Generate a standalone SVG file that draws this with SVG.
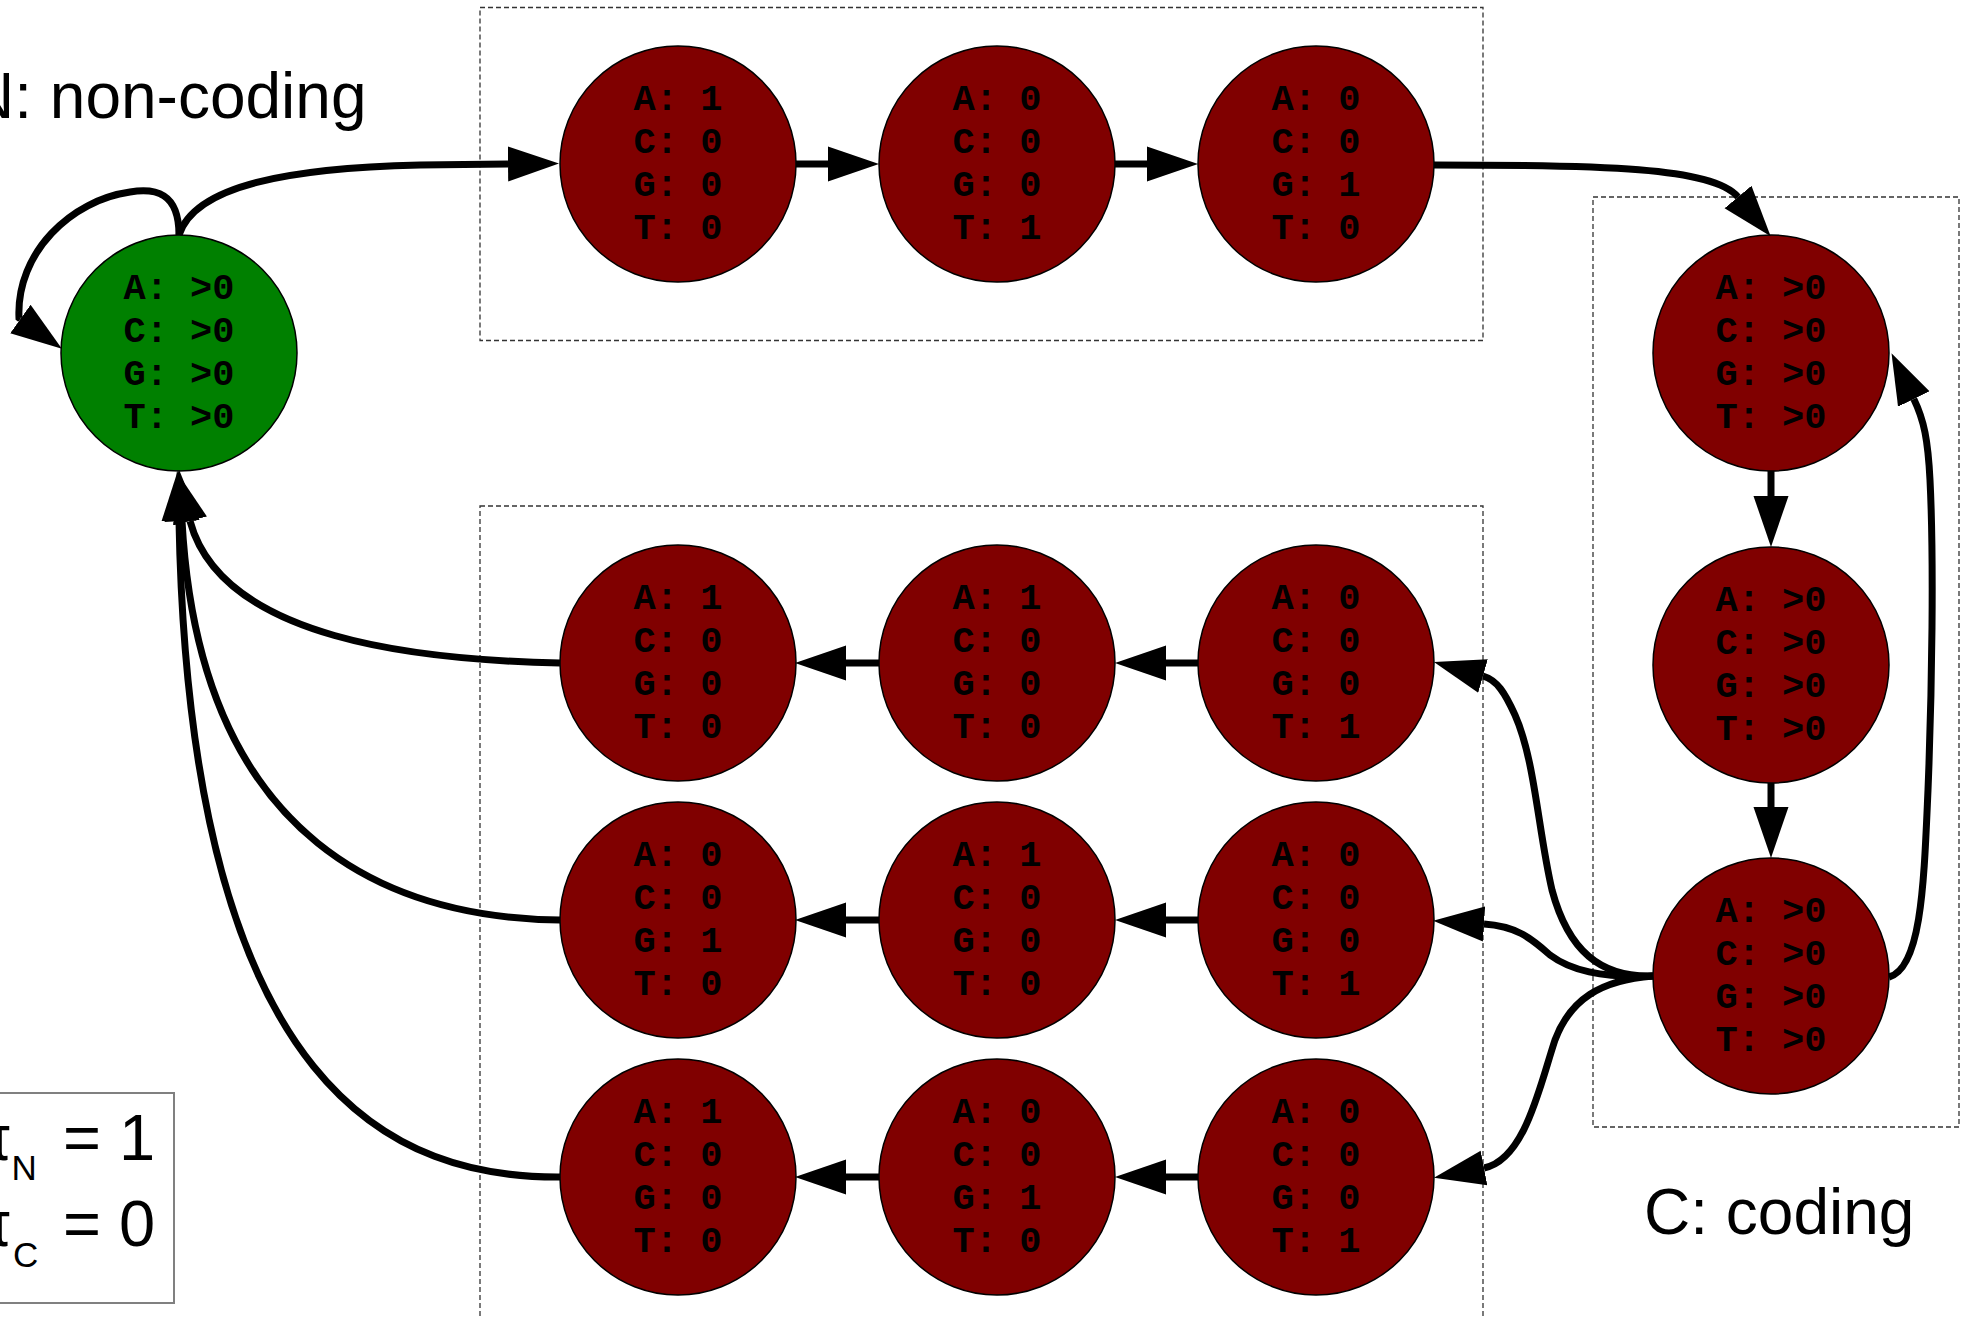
<svg xmlns="http://www.w3.org/2000/svg" width="1971" height="1319" viewBox="0 0 1971 1319">
<style>
.cl{fill:none;stroke:#333;stroke-width:1.3;stroke-dasharray:5 3}
.nr{fill:#800000;stroke:#000;stroke-width:1.5}
.ng{fill:#008000;stroke:#000;stroke-width:1.5}
.lb{font-family:"Liberation Mono","Courier New",monospace;font-weight:bold;font-size:37px;fill:#000;text-anchor:middle}
.big{font-family:"Liberation Sans",Arial,sans-serif;font-size:64px;fill:#000}
.lg{font-family:"Liberation Sans",Arial,sans-serif;fill:#000}
.e{fill:none;stroke:#000;stroke-width:7;marker-end:url(#ah)}
</style>
<defs>
<marker id="ah" markerUnits="userSpaceOnUse" markerWidth="60" markerHeight="40" viewBox="0 -20 60 40" refX="0" refY="0" orient="auto">
<path d="M0,-17.5 L51,0 L0,17.5 z" fill="#000"/>
</marker>
</defs>
<rect width="1971" height="1319" fill="#fff"/>
<g id="clusters">
<rect class="cl" x="480" y="7.5" width="1003" height="333"/>
<rect class="cl" x="480" y="506" width="1003" height="830"/>
<rect class="cl" x="1593" y="197" width="366" height="930"/>
</g>
<text id="label-noncoding" class="big" x="-32" y="118">N: non-coding</text>
<text id="label-coding" class="big" x="1644" y="1234">C: coding</text>
<g id="legend">
<rect x="-5" y="1093" width="179" height="210" fill="#fff" stroke="#808080" stroke-width="2"/>
<text class="lg" x="12" y="1160" font-size="65" text-anchor="end">π</text>
<text class="lg" x="11.5" y="1180" font-size="35">N</text>
<text class="lg" x="63" y="1160" font-size="65">= 1</text>
<text class="lg" x="12" y="1246" font-size="65" text-anchor="end">π</text>
<text class="lg" x="13" y="1267" font-size="35">C</text>
<text class="lg" x="63" y="1246" font-size="65">= 0</text>
</g>
<g id="nodes">
<g id="N"><circle class="ng" cx="179" cy="353" r="118"/><text class="lb"><tspan x="179" y="299">A: &gt;0</tspan><tspan x="179" y="342">C: &gt;0</tspan><tspan x="179" y="385">G: &gt;0</tspan><tspan x="179" y="428">T: &gt;0</tspan></text></g>
<g id="start1"><circle class="nr" cx="678" cy="164" r="118"/><text class="lb"><tspan x="678" y="110">A: 1</tspan><tspan x="678" y="153">C: 0</tspan><tspan x="678" y="196">G: 0</tspan><tspan x="678" y="239">T: 0</tspan></text></g>
<g id="start2"><circle class="nr" cx="997" cy="164" r="118"/><text class="lb"><tspan x="997" y="110">A: 0</tspan><tspan x="997" y="153">C: 0</tspan><tspan x="997" y="196">G: 0</tspan><tspan x="997" y="239">T: 1</tspan></text></g>
<g id="start3"><circle class="nr" cx="1316" cy="164" r="118"/><text class="lb"><tspan x="1316" y="110">A: 0</tspan><tspan x="1316" y="153">C: 0</tspan><tspan x="1316" y="196">G: 1</tspan><tspan x="1316" y="239">T: 0</tspan></text></g>
<g id="C1"><circle class="nr" cx="1771" cy="353" r="118"/><text class="lb"><tspan x="1771" y="299">A: &gt;0</tspan><tspan x="1771" y="342">C: &gt;0</tspan><tspan x="1771" y="385">G: &gt;0</tspan><tspan x="1771" y="428">T: &gt;0</tspan></text></g>
<g id="C2"><circle class="nr" cx="1771" cy="665" r="118"/><text class="lb"><tspan x="1771" y="611">A: &gt;0</tspan><tspan x="1771" y="654">C: &gt;0</tspan><tspan x="1771" y="697">G: &gt;0</tspan><tspan x="1771" y="740">T: &gt;0</tspan></text></g>
<g id="C3"><circle class="nr" cx="1771" cy="976" r="118"/><text class="lb"><tspan x="1771" y="922">A: &gt;0</tspan><tspan x="1771" y="965">C: &gt;0</tspan><tspan x="1771" y="1008">G: &gt;0</tspan><tspan x="1771" y="1051">T: &gt;0</tspan></text></g>
<g id="taa1"><circle class="nr" cx="678" cy="663" r="118"/><text class="lb"><tspan x="678" y="609">A: 1</tspan><tspan x="678" y="652">C: 0</tspan><tspan x="678" y="695">G: 0</tspan><tspan x="678" y="738">T: 0</tspan></text></g>
<g id="taa2"><circle class="nr" cx="997" cy="663" r="118"/><text class="lb"><tspan x="997" y="609">A: 1</tspan><tspan x="997" y="652">C: 0</tspan><tspan x="997" y="695">G: 0</tspan><tspan x="997" y="738">T: 0</tspan></text></g>
<g id="taa3"><circle class="nr" cx="1316" cy="663" r="118"/><text class="lb"><tspan x="1316" y="609">A: 0</tspan><tspan x="1316" y="652">C: 0</tspan><tspan x="1316" y="695">G: 0</tspan><tspan x="1316" y="738">T: 1</tspan></text></g>
<g id="tag1"><circle class="nr" cx="678" cy="920" r="118"/><text class="lb"><tspan x="678" y="866">A: 0</tspan><tspan x="678" y="909">C: 0</tspan><tspan x="678" y="952">G: 1</tspan><tspan x="678" y="995">T: 0</tspan></text></g>
<g id="tag2"><circle class="nr" cx="997" cy="920" r="118"/><text class="lb"><tspan x="997" y="866">A: 1</tspan><tspan x="997" y="909">C: 0</tspan><tspan x="997" y="952">G: 0</tspan><tspan x="997" y="995">T: 0</tspan></text></g>
<g id="tag3"><circle class="nr" cx="1316" cy="920" r="118"/><text class="lb"><tspan x="1316" y="866">A: 0</tspan><tspan x="1316" y="909">C: 0</tspan><tspan x="1316" y="952">G: 0</tspan><tspan x="1316" y="995">T: 1</tspan></text></g>
<g id="tga1"><circle class="nr" cx="678" cy="1177" r="118"/><text class="lb"><tspan x="678" y="1123">A: 1</tspan><tspan x="678" y="1166">C: 0</tspan><tspan x="678" y="1209">G: 0</tspan><tspan x="678" y="1252">T: 0</tspan></text></g>
<g id="tga2"><circle class="nr" cx="997" cy="1177" r="118"/><text class="lb"><tspan x="997" y="1123">A: 0</tspan><tspan x="997" y="1166">C: 0</tspan><tspan x="997" y="1209">G: 1</tspan><tspan x="997" y="1252">T: 0</tspan></text></g>
<g id="tga3"><circle class="nr" cx="1316" cy="1177" r="118"/><text class="lb"><tspan x="1316" y="1123">A: 0</tspan><tspan x="1316" y="1166">C: 0</tspan><tspan x="1316" y="1209">G: 0</tspan><tspan x="1316" y="1252">T: 1</tspan></text></g>
</g>
<g id="edges">
<path class="e" d="M179,235 C179,192 155,188 130,192 C72,200 16,252 19,318 L20.4,319"/>
<path class="e" d="M179,235 C195,185 290,168 420,165 L508,164"/>
<path class="e" d="M796,164 L828,164"/>
<path class="e" d="M1115,164 L1147,164"/>
<path class="e" d="M1434,165 C1600,165 1713,167 1738,197"/>
<path class="e" d="M1771,471 L1771,496"/>
<path class="e" d="M1771,783 L1771,807"/>
<path class="e" d="M1889,977 C1922,968 1924,880 1928,790 C1932,690 1934,560 1930,480 C1928,440 1924,420 1913.8,399"/>
<path class="e" d="M1653,976 C1600,978 1568,950 1552,890 C1538,830 1535,760 1515,715 C1505,693 1497,680 1483,676"/>
<path class="e" d="M1653,976 C1600,978 1570,970 1550,955 C1530,937 1515,926 1484,924"/>
<path class="e" d="M1653,976 C1600,980 1570,1000 1555,1040 C1540,1085 1525,1160 1484,1168"/>
<path class="e" d="M1198,663 L1166,663"/>
<path class="e" d="M879,663 L846,663"/>
<path class="e" d="M1198,920 L1166,920"/>
<path class="e" d="M879,920 L846,920"/>
<path class="e" d="M1198,1177 L1166,1177"/>
<path class="e" d="M879,1177 L846,1177"/>
<path class="e" d="M560,663 C420,660 222,640 190,521"/>
<path class="e" d="M560,920 C400,918 200,850 182,521"/>
<path class="e" d="M560,1177 C400,1178 190,1100 179,521"/>
</g>
</svg>
